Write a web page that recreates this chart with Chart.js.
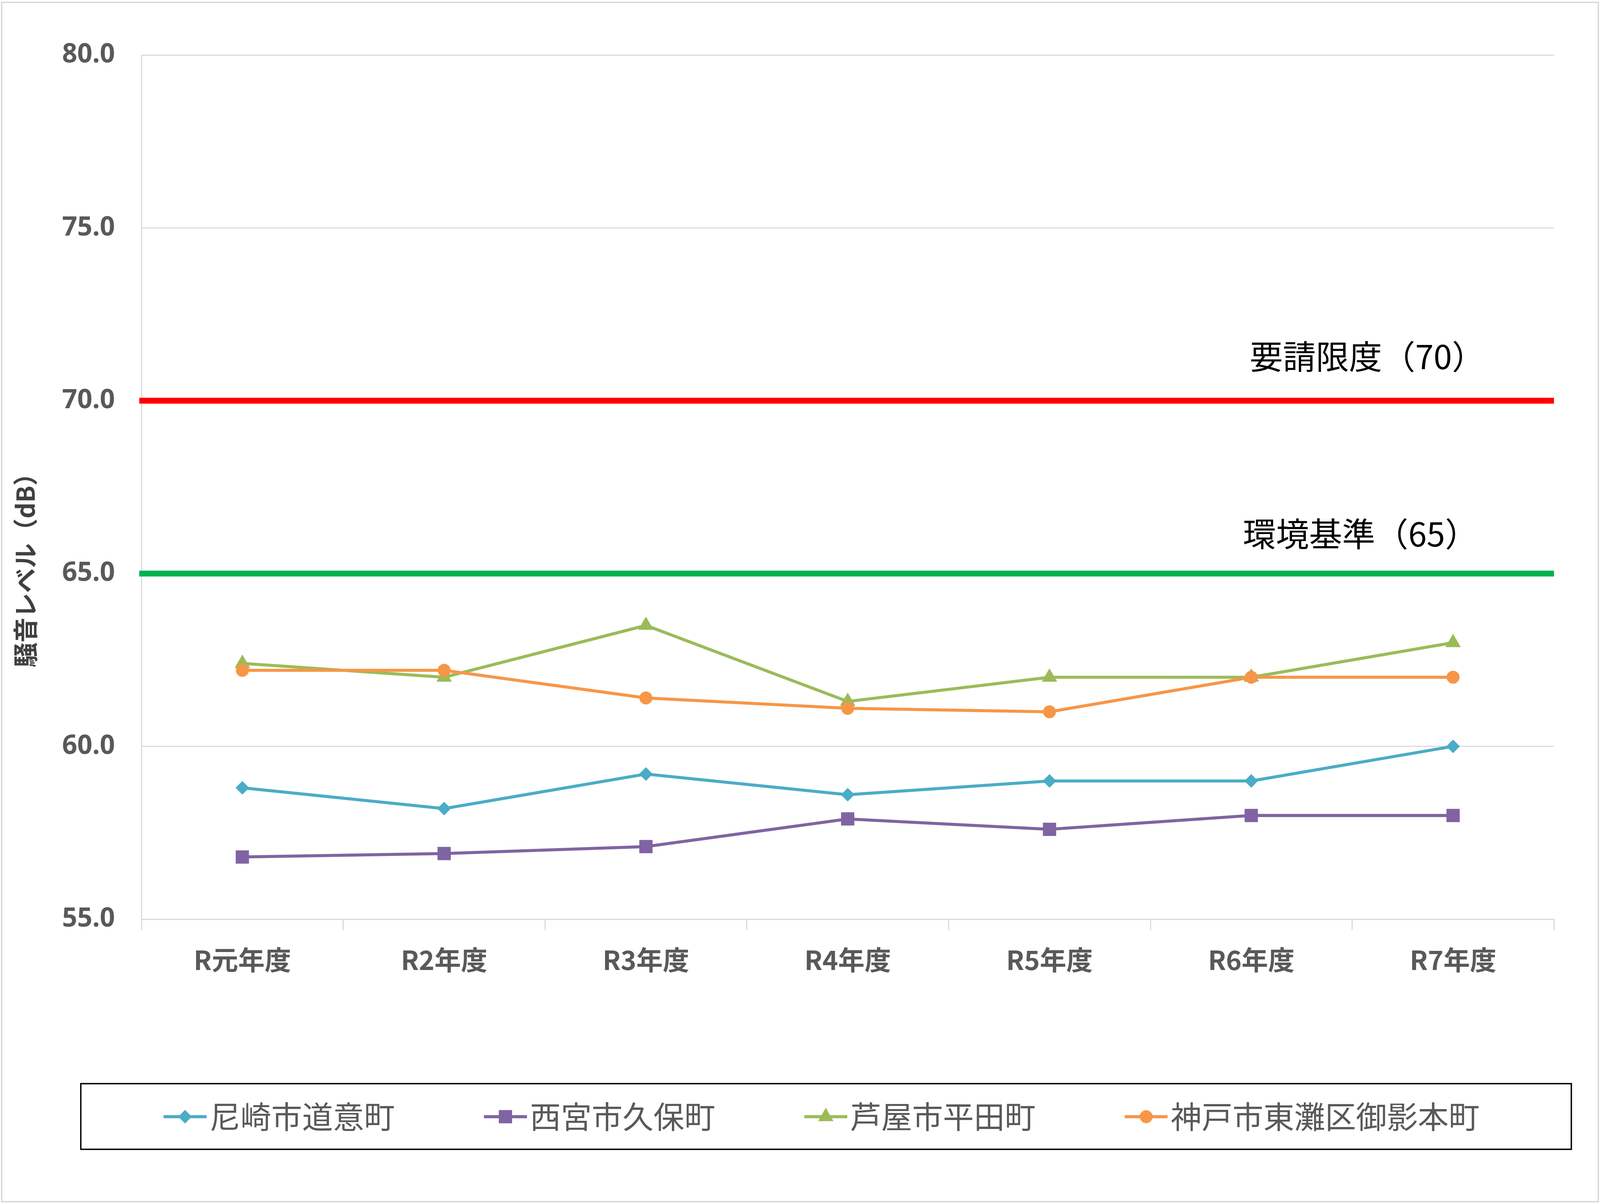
<!DOCTYPE html>
<html><head><meta charset="utf-8">
<script src="https://cdn.jsdelivr.net/npm/chart.js@4.4.0/dist/chart.umd.min.js"></script>
<style>html,body{margin:0;padding:0;background:#fff;overflow:hidden}#wrap{position:relative}canvas{display:block}</style>
</head><body>
<div id="wrap"><canvas id="c"></canvas></div>
<script>
// ---- data ----
const categories = ['R元年度','R2年度','R3年度','R4年度','R5年度','R6年度','R7年度'];
const seriesNames = ['尼崎市道意町','西宮市久保町','芦屋市平田町','神戸市東灘区御影本町'];
const amagasaki   = [58.8, 58.2, 59.2, 58.6, 59.0, 59.0, 60.0];
const nishinomiya = [56.8, 56.9, 57.1, 57.9, 57.6, 58.0, 58.0];
const ashiya      = [62.4, 62.0, 63.5, 61.3, 62.0, 62.0, 63.0];
const kobe        = [62.2, 62.2, 61.4, 61.1, 61.0, 62.0, 62.0];
const yMin = 55, yMax = 80, yStep = 5;
const limitValues = [70, 65];
const limitLabels = ['要請限度（70）', '環境基準（65）'];
const yTitle = '騒音レベル（dB）';

// ---- layout / styles (design units = 5802 x 3082, scaled to the window) ----
const BW = 5802, BH = 3082;
const vw = window.innerWidth || BW, vh = window.innerHeight || BH;
const sx = vw / BW, sy = vh / BH, sf = Math.min(sx, sy);
const X = v => v * sx, Y = v => v * sy, F = v => v * sf;
const W = BW * sx, H = BH * sy;
const wrap = document.getElementById('wrap');
wrap.style.width = W + 'px';
wrap.style.height = H + 'px';

const seriesData = [amagasaki, nishinomiya, ashiya, kobe];
const seriesColors = ['#4BACC6', '#8064A2', '#9BBB59', '#F79646'];
const seriesStyles = ['rectRot', 'rect', 'triangle', 'circle'];
const seriesRadius = [24, 33, 31, 23];
const seriesOrder = [3, 2, 1, 0];
const limitColors = ['#FF0000', '#00B050'];
const limitLabelRight = [250, 275];
const limitLabelRise = [113, 101];
const gridColor = '#D9D9D9';
const textGrey = '#595959';
const cjk = "'Noto Sans CJK JP', 'Noto Sans', sans-serif";

function drawMarker(g, style, r, x, y) {
  if (Chart.helpers && Chart.helpers.drawPoint) {
    Chart.helpers.drawPoint(g, {pointStyle: style, radius: r, rotation: 0, borderWidth: 1}, x, y);
    return;
  }
  g.beginPath();
  if (style === 'circle') g.arc(x, y, r, 0, Math.PI * 2);
  else if (style === 'rect') { const q = r * Math.SQRT1_2; g.rect(x - q, y - q, 2 * q, 2 * q); }
  else if (style === 'rectRot') { g.moveTo(x, y - r); g.lineTo(x + r, y); g.lineTo(x, y + r); g.lineTo(x - r, y); g.closePath(); }
  else { g.moveTo(x, y - r); g.lineTo(x + r * 0.866, y + r / 2); g.lineTo(x - r * 0.866, y + r / 2); g.closePath(); }
  g.fill();
}

function makeIcon(i) {
  const c = document.createElement('canvas');
  c.width = Math.round(X(524)); c.height = Math.round(F(90));
  const g = c.getContext('2d');
  g.strokeStyle = seriesColors[i]; g.fillStyle = seriesColors[i];
  g.lineWidth = F(11);
  g.beginPath(); g.moveTo(X(368), c.height / 2); g.lineTo(c.width, c.height / 2); g.stroke();
  g.lineWidth = 1;
  drawMarker(g, seriesStyles[i], F(seriesRadius[i]), X(446), c.height / 2);
  return c;
}
const legendIcons = seriesNames.map((_, i) => makeIcon(i));

const decor = {
  id: 'decor',
  beforeDraw(chart) {
    const ctx = chart.ctx;
    ctx.save();
    ctx.fillStyle = '#fff';
    ctx.fillRect(0, 0, chart.width, chart.height);
    ctx.restore();
  },
  beforeDatasetsDraw(chart) {
    const {ctx, chartArea, scales} = chart;
    limitValues.forEach((v, i) => {
      const py = scales.y.getPixelForValue(v);
      ctx.save();
      ctx.strokeStyle = limitColors[i];
      ctx.lineWidth = Y(15);
      ctx.beginPath();
      ctx.moveTo(chartArea.left - X(8), py);
      ctx.lineTo(chartArea.right, py);
      ctx.stroke();
      ctx.font = F(120) + "px " + cjk;
      ctx.fillStyle = '#000';
      ctx.textAlign = 'right';
      ctx.textBaseline = 'middle';
      ctx.fillText(limitLabels[i], chartArea.right - X(limitLabelRight[i]), py - Y(limitLabelRise[i]));
      ctx.restore();
    });
  },
  afterDraw(chart) {
    const ctx = chart.ctx;
    const lg = chart.legend;
    ctx.save();
    // outer chart border
    ctx.strokeStyle = gridColor;
    ctx.lineWidth = F(5);
    ctx.strokeRect(X(6), Y(6), W - X(12), H - Y(12));
    // legend frame
    ctx.strokeStyle = '#000';
    ctx.lineWidth = F(5);
    const top = lg.top - Y(45), bot = lg.bottom + Y(34);
    ctx.strokeRect(X(293), top, X(5698 - 293), bot - top);
    // y axis title
    ctx.translate(X(92), Y(1444));
    ctx.rotate(-Math.PI / 2);
    ctx.font = "bold " + F(90) + "px " + cjk;
    ctx.fillStyle = '#404040';
    ctx.textAlign = 'center';
    ctx.textBaseline = 'middle';
    ctx.fillText(yTitle, 0, 0);
    ctx.restore();
  }
};

new Chart(document.getElementById('c'), {
  type: 'line',
  data: {
    labels: categories,
    datasets: seriesNames.map((name, i) => ({
      label: name,
      data: seriesData[i],
      borderColor: seriesColors[i],
      backgroundColor: seriesColors[i],
      borderWidth: F(11),
      tension: 0,
      fill: false,
      pointStyle: seriesStyles[i],
      pointRadius: F(seriesRadius[i]),
      pointHoverRadius: F(seriesRadius[i]),
      pointBackgroundColor: seriesColors[i],
      pointBorderColor: seriesColors[i],
      pointBorderWidth: 1,
      order: seriesOrder[i]
    }))
  },
  options: {
    responsive: true,
    maintainAspectRatio: false,
    animation: false,
    layout: {padding: {top: Y(141), right: X(167), bottom: Y(174), left: 0}},
    scales: {
      x: {
        type: 'category',
        offset: true,
        grid: {offset: true, drawOnChartArea: false, drawTicks: true, tickLength: Y(28), color: gridColor, lineWidth: F(4)},
        border: {display: true, color: gridColor, width: F(4)},
        ticks: {
          padding: Y(36),
          color: textGrey,
          font: {family: cjk, size: F(96), weight: 'bold'},
          maxRotation: 0, autoSkip: false
        },
        afterFit(scale) { scale.height = Y(466); }
      },
      y: {
        min: yMin, max: yMax,
        grid: {drawTicks: false, color: gridColor, lineWidth: F(4)},
        border: {display: true, color: gridColor, width: F(4)},
        ticks: {
          stepSize: yStep,
          padding: X(96),
          color: textGrey,
          font: {family: "'Noto Sans', sans-serif", size: F(96), weight: 'bold'},
          callback: v => Number(v).toFixed(1)
        },
        afterFit(scale) { scale.width = X(513); }
      }
    },
    plugins: {
      tooltip: {enabled: false},
      legend: {
        position: 'bottom',
        labels: {
          usePointStyle: true,
          pointStyleWidth: X(434),
          padding: 0,
          color: textGrey,
          font: {family: cjk, size: F(112)},
          generateLabels(chart) {
            return chart.data.datasets.map((ds, i) => ({
              text: ds.label,
              pointStyle: legendIcons[i],
              fillStyle: 'rgba(0,0,0,0)',
              strokeStyle: 'rgba(0,0,0,0)',
              lineWidth: 0,
              hidden: false,
              datasetIndex: i,
              fontColor: textGrey
            }));
          }
        }
      }
    }
  },
  plugins: [decor]
});
</script>
</body></html>
